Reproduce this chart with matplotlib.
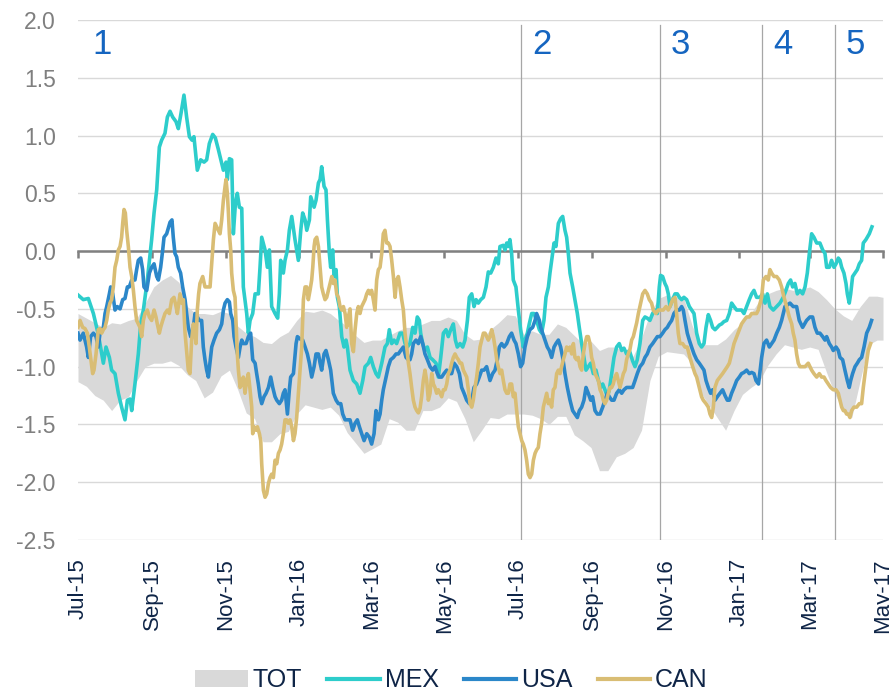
import numpy as np
import pandas as pd
import matplotlib
matplotlib.use("Agg")
import matplotlib.pyplot as plt
import matplotlib.dates as mdates
from matplotlib.patches import Patch
from matplotlib.lines import Line2D

plt.rcParams["font.family"] = ["Liberation Sans", "DejaVu Sans"]
plt.rcParams["axes.unicode_minus"] = False

START = pd.Timestamp("2015-07-01")

# (days since 1 Jul 2015, value)
mex_pts = [
    (0, -0.38), (4.4, -0.42), (8.6, -0.41), (12.8, -0.54), (16.9, -0.72), (19.7, -0.89), (21.1, -0.97),
    (23.3, -0.83), (26.1, -0.92), (28.0, -1.03), (30.8, -1.06), (33.6, -1.23), (36.3, -1.35), (39.1, -1.46),
    (41.1, -1.29), (43.3, -1.28), (44.7, -1.38), (47.4, -1.15), (50.2, -0.89), (52.2, -0.63), (54.4, -0.51),
    (57.7, -0.25), (61.3, 0.10), (63.3, 0.33), (65.5, 0.53), (67.7, 0.90), (69.6, 0.96), (72.4, 1.02),
    (74.4, 1.16), (76.6, 1.21), (78.8, 1.16), (81.6, 1.12), (83.5, 1.06), (85.7, 1.19), (88.2, 1.35),
    (90.4, 1.16), (92.7, 0.99), (94.9, 0.96), (96.5, 0.99), (99.3, 0.70), (102.1, 0.79), (104.9, 0.77),
    (107.1, 0.79), (109.3, 0.93), (112.1, 1.01), (114.3, 0.98), (116.8, 0.88), (119.6, 0.76), (121.0, 0.70),
    (123.2, 0.77), (124.3, 0.62), (126.0, 0.80), (127.9, 0.79), (129.3, 0.15), (131.0, 0.41), (132.6, 0.50),
    (134.3, 0.38), (136.3, 0.37), (137.6, -0.31), (140.4, -0.54), (141.8, -0.71), (143.2, -0.60),
    (145.4, -0.54), (147.4, -0.37), (150.1, -0.37), (151.5, -0.14), (152.9, 0.12), (155.7, 0.01),
    (157.6, -0.14), (159.3, 0.01), (161.2, -0.48), (164.0, -0.54), (166.2, -0.58), (167.6, -0.37),
    (168.7, -0.08), (170.9, -0.19), (172.3, -0.08), (174.3, 0.01), (175.9, 0.18), (177.9, 0.30),
    (180.6, 0.10), (183.4, -0.08), (185.4, 0.18), (187.0, 0.33), (189.0, 0.27), (190.4, 0.18), (192.6, 0.27),
    (193.7, 0.47), (196.5, 0.38), (198.1, 0.44), (200.1, 0.59), (201.5, 0.62), (202.8, 0.73), (204.8, 0.56),
    (206.4, 0.53), (207.6, 0.27), (209.2, -0.02), (210.3, -0.14), (212.0, 0.01), (213.1, -0.22),
    (214.8, -0.16), (215.9, -0.40), (217.5, -0.48), (219.5, -0.74), (221.4, -0.83), (223.1, -0.77),
    (224.2, -0.83), (226.4, -1.03), (229.2, -1.12), (232.0, -1.15), (234.7, -1.23), (237.0, -1.12),
    (238.9, -1.00), (241.7, -0.97), (243.6, -0.92), (245.8, -1.00), (248.0, -1.06), (250.0, -1.09),
    (252.8, -0.97), (255.5, -0.83), (257.5, -0.80), (259.1, -0.68), (261.1, -0.80), (263.0, -0.77),
    (265.2, -0.80), (268.0, -0.71), (270.2, -0.71), (272.2, -0.80), (274.1, -0.83), (276.3, -0.80),
    (278.6, -0.66), (280.5, -0.71), (282.4, -0.57), (284.1, -0.60), (285.2, -0.71), (286.9, -0.80),
    (288.8, -0.86), (290.8, -0.83), (293.0, -0.92), (295.2, -0.94), (298.0, -0.97), (299.9, -1.09),
    (301.9, -0.92), (304.1, -0.71), (306.3, -0.68), (308.2, -0.74), (310.2, -0.68), (312.4, -0.63),
    (314.1, -0.77), (315.7, -0.83), (318.0, -0.80), (320.2, -0.83), (322.1, -0.77), (324.1, -0.60),
    (325.7, -0.40), (327.7, -0.37), (329.6, -0.48), (331.3, -0.42), (333.2, -0.45), (335.2, -0.42),
    (337.4, -0.40), (339.6, -0.31), (341.5, -0.18), (343.5, -0.19), (345.7, -0.14), (347.9, -0.06),
    (349.8, -0.11), (351.2, 0.04), (354.0, 0.05), (355.4, 0.01), (356.8, 0.07), (358.2, 0.04), (359.5, 0.10),
    (360.9, -0.02), (362.3, -0.25), (364.5, -0.31), (366.5, -0.51), (368.4, -0.68), (370.6, -0.83),
    (372.0, -0.77), (374.0, -0.71), (375.6, -0.63), (377.6, -0.54), (379.5, -0.54), (381.7, -0.60),
    (384.0, -0.68), (385.9, -0.71), (387.8, -0.60), (389.5, -0.40), (391.5, -0.31), (392.8, -0.19),
    (394.2, -0.08), (396.2, 0.07), (397.8, 0.04), (399.8, 0.24), (401.7, 0.28), (403.4, 0.30), (405.3, 0.18),
    (406.7, 0.12), (408.1, -0.02), (409.5, -0.19), (411.7, -0.31), (413.6, -0.42), (415.6, -0.54),
    (417.2, -0.66), (419.2, -0.80), (421.1, -0.92), (422.8, -1.03), (424.7, -1.00), (426.7, -0.97),
    (428.9, -1.06), (431.1, -1.03), (433.1, -1.12), (435.0, -1.18), (436.7, -1.15), (438.6, -1.20),
    (440.6, -1.26), (442.2, -1.20), (444.2, -1.06), (446.1, -0.92), (448.3, -0.83), (450.5, -0.80),
    (452.5, -0.86), (454.4, -0.84), (456.6, -0.89), (458.9, -0.86), (461.6, -0.95), (463.6, -1.00),
    (465.5, -0.94), (467.7, -0.80), (470.0, -0.60), (471.9, -0.57), (473.8, -0.58), (476.0, -0.60),
    (478.3, -0.54), (480.2, -0.51), (482.2, -0.54), (483.8, -0.31), (484.9, -0.21), (486.6, -0.22),
    (488.5, -0.28), (489.9, -0.31), (491.3, -0.37), (492.7, -0.48), (494.9, -0.42), (496.9, -0.37),
    (498.8, -0.37), (500.5, -0.40), (502.4, -0.42), (504.3, -0.40), (506.6, -0.42), (508.8, -0.48),
    (510.7, -0.51), (512.7, -0.54), (514.9, -0.71), (517.1, -0.80), (519.0, -0.83), (521.0, -0.80),
    (522.7, -0.66), (524.6, -0.55), (526.5, -0.60), (528.2, -0.66), (530.2, -0.68), (532.1, -0.66),
    (533.8, -0.64), (535.7, -0.63), (537.6, -0.61), (539.9, -0.60), (542.1, -0.54), (544.0, -0.45),
    (546.0, -0.48), (548.2, -0.51), (550.4, -0.51), (552.3, -0.51), (554.3, -0.54), (556.5, -0.48),
    (558.7, -0.42), (560.7, -0.37), (562.6, -0.34), (564.8, -0.40), (567.6, -0.40), (569.8, -0.37),
    (571.8, -0.45), (573.7, -0.37), (575.9, -0.48), (578.7, -0.51), (581.5, -0.48), (584.2, -0.45),
    (587.0, -0.40), (589.2, -0.34), (591.2, -0.28), (593.1, -0.25), (594.8, -0.31), (596.7, -0.28),
    (598.7, -0.37), (600.9, -0.34), (603.1, -0.37), (605.1, -0.31), (607.0, -0.19), (608.7, -0.02),
    (610.6, 0.15), (612.5, 0.12), (614.8, 0.07), (617.5, 0.07), (619.8, 0.01), (621.7, -0.02),
    (623.1, -0.14), (625.3, -0.14), (627.2, -0.08), (629.2, -0.14), (630.9, -0.11), (632.8, -0.06),
    (634.2, -0.08), (635.6, -0.14), (637.5, -0.19), (639.2, -0.28), (640.3, -0.37), (641.9, -0.45),
    (643.1, -0.37), (644.7, -0.22), (646.7, -0.19), (648.6, -0.16), (650.3, -0.11), (652.2, -0.08),
    (653.6, 0.07), (655.8, 0.10), (656.9, 0.12), (658.6, 0.15), (659.7, 0.18), (660.8, 0.21),
]

usa_pts = [
    (0, -0.71), (1.7, -0.77), (4.4, -0.71), (7.2, -0.83), (8.6, -0.92), (10.5, -0.74), (12.8, -0.71),
    (15.0, -0.74), (16.9, -0.83), (18.3, -0.71), (21.1, -0.66), (22.5, -0.54), (23.9, -0.48), (26.1, -0.37),
    (27.2, -0.31), (28.9, -0.37), (30.8, -0.51), (32.7, -0.48), (35.0, -0.50), (37.2, -0.42), (39.1, -0.41),
    (41.1, -0.31), (42.7, -0.31), (44.7, -0.25), (47.4, -0.25), (48.8, -0.16), (50.2, -0.08), (52.2, -0.06),
    (53.8, -0.16), (54.9, -0.31), (57.2, -0.34), (59.4, -0.19), (61.3, -0.14), (63.3, -0.11), (65.5, -0.22),
    (66.9, -0.25), (68.8, -0.14), (70.5, 0.01), (71.6, 0.12), (73.8, 0.15), (75.5, 0.21), (76.6, 0.25),
    (78.2, 0.27), (79.3, 0.12), (80.7, -0.02), (82.1, -0.05), (83.5, -0.14), (85.4, -0.19), (87.1, -0.31),
    (89.1, -0.42), (90.4, -0.54), (91.8, -0.66), (93.8, -0.74), (95.4, -0.71), (97.4, -0.54), (99.3, -0.57),
    (101.0, -0.60), (102.9, -0.60), (104.3, -0.83), (105.7, -0.94), (107.1, -1.03), (108.5, -1.09),
    (111.3, -0.83), (113.2, -0.77), (115.4, -0.71), (117.7, -0.68), (119.6, -0.63), (121.0, -0.51),
    (122.4, -0.45), (124.3, -0.42), (126.0, -0.44), (127.1, -0.54), (128.8, -0.60), (129.9, -0.74),
    (131.5, -0.83), (133.5, -0.92), (134.9, -0.83), (136.3, -0.77), (137.6, -0.80), (139.9, -0.80),
    (141.8, -0.74), (143.7, -0.71), (145.4, -0.94), (147.4, -0.97), (148.7, -1.06), (150.1, -1.15),
    (151.5, -1.26), (152.9, -1.32), (154.8, -1.26), (156.5, -1.23), (158.5, -1.18), (160.4, -1.09),
    (162.1, -1.18), (164.0, -1.26), (165.4, -1.29), (167.6, -1.32), (169.5, -1.29), (170.9, -1.23),
    (172.3, -1.20), (174.3, -1.41), (175.9, -1.20), (177.0, -1.09), (179.3, -1.06), (181.5, -0.80),
    (182.6, -0.74), (184.8, -0.76), (187.0, -0.77), (189.0, -0.83), (190.9, -0.89), (192.6, -0.97),
    (194.5, -1.09), (196.5, -1.00), (198.1, -0.89), (200.1, -0.89), (201.5, -0.97), (202.8, -1.03),
    (204.8, -0.89), (206.4, -0.86), (208.4, -0.94), (210.3, -1.03), (212.5, -1.23), (214.8, -1.29),
    (216.7, -1.32), (218.7, -1.32), (220.3, -1.41), (222.3, -1.46), (224.2, -1.46), (226.4, -1.46),
    (228.6, -1.55), (230.6, -1.49), (232.5, -1.46), (234.2, -1.52), (236.1, -1.58), (238.1, -1.64),
    (240.3, -1.58), (242.5, -1.61), (244.4, -1.67), (246.4, -1.58), (248.0, -1.38), (250.0, -1.46),
    (251.4, -1.41), (252.8, -1.29), (254.1, -1.20), (256.4, -1.09), (258.3, -1.00), (260.2, -0.94),
    (262.5, -0.92), (264.7, -0.89), (266.6, -0.89), (268.6, -0.86), (270.8, -0.83), (273.0, -0.92),
    (275.0, -0.94), (276.3, -0.94), (277.7, -0.89), (279.1, -0.80), (281.3, -0.77), (283.3, -0.80),
    (285.2, -0.74), (286.9, -0.80), (288.8, -0.89), (290.8, -0.94), (293.0, -1.00), (295.2, -1.03),
    (297.1, -1.00), (299.1, -1.06), (300.8, -1.09), (302.7, -1.09), (304.6, -1.06), (306.9, -1.03),
    (309.1, -1.06), (311.0, -1.06), (313.0, -0.97), (315.2, -1.00), (317.4, -1.06), (319.3, -1.18),
    (321.3, -1.23), (323.5, -1.29), (325.7, -1.32), (327.7, -1.29), (329.6, -1.18), (331.8, -1.15),
    (334.0, -1.09), (336.0, -1.03), (337.9, -1.03), (340.1, -1.00), (342.9, -1.12), (345.1, -1.06),
    (347.1, -1.03), (349.0, -0.94), (350.7, -0.83), (352.6, -0.80), (354.6, -0.83), (356.8, -0.80),
    (359.0, -0.74), (360.9, -0.71), (362.9, -0.77), (364.5, -0.80), (366.5, -0.89), (368.4, -1.00),
    (370.1, -0.97), (372.0, -0.83), (374.0, -0.74), (376.2, -0.68), (378.4, -0.66), (380.4, -0.60),
    (381.7, -0.54), (384.0, -0.60), (385.1, -0.66), (386.7, -0.71), (388.7, -0.77), (390.6, -0.83),
    (392.3, -0.86), (394.2, -0.92), (396.2, -0.83), (397.8, -0.80), (399.8, -0.77), (401.7, -0.83),
    (403.4, -0.92), (405.3, -1.06), (407.3, -1.18), (409.5, -1.29), (411.7, -1.38), (413.6, -1.41),
    (415.6, -1.44), (417.3, -1.38), (419.2, -1.35), (421.1, -1.29), (422.8, -1.18), (424.7, -1.23),
    (426.7, -1.29), (428.3, -1.26), (430.3, -1.38), (432.2, -1.41), (434.5, -1.41), (436.7, -1.35),
    (438.6, -1.29), (440.6, -1.23), (442.2, -1.26), (444.2, -1.29), (446.1, -1.29), (448.3, -1.23),
    (450.5, -1.20), (452.5, -1.23), (454.4, -1.20), (456.6, -1.18), (458.9, -1.18), (461.6, -1.18),
    (463.6, -1.12), (465.5, -1.06), (467.7, -1.00), (470.0, -0.97), (471.9, -0.92), (473.8, -0.89),
    (476.0, -0.83), (478.3, -0.80), (480.2, -0.77), (482.2, -0.74), (484.4, -0.74), (486.6, -0.71),
    (488.5, -0.68), (490.5, -0.66), (492.1, -0.63), (494.1, -0.60), (496.0, -0.54), (498.2, -0.51),
    (500.5, -0.51), (502.4, -0.48), (503.8, -0.51), (505.2, -0.60), (507.1, -0.71), (508.8, -0.77),
    (510.7, -0.83), (512.7, -0.89), (514.9, -0.94), (517.1, -0.97), (519.0, -1.00), (521.0, -1.03),
    (522.7, -1.12), (524.6, -1.18), (526.5, -1.23), (528.2, -1.20), (530.2, -1.29), (532.1, -1.26),
    (534.3, -1.23), (536.5, -1.20), (538.5, -1.25), (540.4, -1.29), (542.1, -1.29), (544.0, -1.23),
    (546.0, -1.18), (548.2, -1.12), (550.4, -1.09), (552.3, -1.06), (554.3, -1.05), (556.5, -1.03),
    (558.7, -1.06), (560.7, -1.05), (562.6, -1.06), (564.3, -1.12), (566.4, -1.15), (569.0, -0.92),
    (570.9, -0.80), (573.1, -0.77), (575.4, -0.83), (577.3, -0.80), (579.3, -0.77), (581.5, -0.71),
    (583.7, -0.66), (585.6, -0.60), (588.4, -0.48), (592.6, -0.45), (595.3, -0.48), (598.1, -0.48),
    (600.3, -0.60), (603.1, -0.66), (606.4, -0.60), (609.2, -0.57), (611.4, -0.57), (613.4, -0.66),
    (615.3, -0.71), (617.5, -0.71), (619.8, -0.74), (621.7, -0.77), (623.1, -0.74), (625.3, -0.80),
    (627.2, -0.83), (628.6, -0.86), (630.9, -0.83), (632.8, -0.86), (634.2, -0.92), (636.4, -0.94),
    (638.3, -1.03), (640.3, -1.12), (641.9, -1.18), (643.1, -1.12), (644.7, -1.06), (646.7, -1.00),
    (648.6, -0.97), (650.3, -0.94), (652.2, -0.92), (654.2, -0.83), (656.4, -0.71), (658.6, -0.66),
    (660.5, -0.60),
]

can_pts = [
    (0, -0.66), (1.7, -0.60), (3.9, -0.66), (5.8, -0.67), (7.8, -0.71), (9.4, -0.83), (10.5, -0.92),
    (12.2, -1.06), (13.3, -1.03), (15.0, -0.89), (16.9, -0.68), (18.3, -0.67), (19.7, -0.71), (21.1, -0.68),
    (22.5, -0.66), (23.9, -0.60), (25.2, -0.51), (26.6, -0.45), (28.0, -0.42), (29.4, -0.31), (30.8, -0.14),
    (32.2, -0.08), (33.6, 0.01), (35.0, 0.04), (36.3, 0.12), (37.2, 0.24), (38.3, 0.36), (39.4, 0.33),
    (40.5, 0.18), (41.9, 0.04), (43.3, -0.14), (44.7, -0.22), (46.1, -0.34), (47.4, -0.48), (48.8, -0.60),
    (50.2, -0.63), (51.6, -0.66), (53.0, -0.74), (54.4, -0.60), (55.8, -0.54), (57.7, -0.51), (59.4, -0.57),
    (61.3, -0.60), (63.3, -0.51), (64.9, -0.57), (66.0, -0.63), (67.7, -0.71), (68.8, -0.66), (70.5, -0.60),
    (72.4, -0.54), (74.4, -0.51), (76.0, -0.54), (78.0, -0.42), (79.9, -0.40), (81.6, -0.48), (82.7, -0.54),
    (84.9, -0.37), (86.3, -0.45), (87.7, -0.42), (89.1, -0.71), (90.4, -0.86), (91.8, -1.03), (93.2, -1.06),
    (94.6, -0.77), (96.0, -0.63), (97.4, -0.71), (98.2, -0.80), (99.3, -0.51), (100.4, -0.37),
    (101.5, -0.28), (103.8, -0.22), (105.7, -0.31), (107.1, -0.31), (109.9, -0.31), (112.7, 0.10),
    (114.1, 0.24), (115.4, 0.21), (116.8, 0.18), (118.2, 0.15), (119.6, 0.27), (121.0, 0.44), (122.4, 0.56),
    (123.2, 0.62), (124.3, 0.50), (125.2, 0.33), (126.0, 0.15), (127.1, 0.01), (127.9, -0.19),
    (129.3, -0.34), (130.7, -0.40), (131.5, -0.60), (132.6, -0.89), (133.5, -1.03), (134.9, -1.18),
    (136.3, -1.15), (137.6, -1.09), (139.0, -1.23), (140.4, -1.12), (141.8, -1.06), (143.2, -1.20),
    (144.6, -1.35), (145.4, -1.58), (146.5, -1.52), (148.2, -1.55), (149.3, -1.52), (151.0, -1.58),
    (152.1, -1.64), (152.9, -1.84), (154.3, -2.07), (155.7, -2.13), (157.1, -2.10), (158.5, -2.01),
    (159.8, -1.96), (161.2, -1.93), (162.6, -1.96), (164.0, -1.81), (165.4, -1.84), (166.8, -1.75),
    (168.2, -1.72), (169.5, -1.67), (170.9, -1.58), (172.3, -1.46), (173.7, -1.46), (175.1, -1.49),
    (176.5, -1.46), (177.9, -1.52), (179.3, -1.64), (180.6, -1.58), (182.0, -1.44), (183.4, -1.23),
    (184.8, -1.03), (186.2, -0.83), (187.6, -0.42), (189.0, -0.31), (190.4, -0.31), (191.7, -0.42),
    (193.1, -0.34), (194.5, -0.25), (195.4, -0.14), (196.5, 0.04), (197.3, 0.10), (198.7, 0.12),
    (200.1, 0.04), (201.5, -0.14), (202.8, -0.31), (204.2, -0.37), (205.6, -0.42), (207.0, -0.40),
    (208.4, -0.34), (209.8, -0.28), (211.2, -0.22), (212.5, -0.28), (213.9, -0.25), (215.3, -0.37),
    (216.7, -0.40), (218.1, -0.48), (219.5, -0.51), (220.9, -0.48), (222.3, -0.54), (223.6, -0.66),
    (225.0, -0.57), (226.4, -0.50), (227.8, -0.80), (229.2, -0.87), (230.6, -0.68), (232.0, -0.54),
    (233.3, -0.48), (234.7, -0.54), (236.1, -0.48), (237.5, -0.45), (238.9, -0.42), (240.3, -0.37),
    (241.7, -0.34), (243.0, -0.37), (244.4, -0.34), (245.8, -0.42), (247.2, -0.51), (248.6, -0.25),
    (250.0, -0.16), (251.4, -0.14), (252.8, -0.02), (254.1, 0.15), (255.5, 0.18), (256.9, 0.07),
    (258.3, 0.07), (259.7, 0.04), (261.1, -0.08), (262.5, -0.22), (263.9, -0.40), (265.2, -0.25),
    (266.6, -0.22), (268.0, -0.31), (269.4, -0.42), (270.8, -0.51), (272.2, -0.71), (273.6, -0.83),
    (275.0, -0.97), (276.3, -1.06), (277.7, -1.18), (279.1, -1.29), (280.5, -1.35), (281.9, -1.38),
    (283.3, -1.40), (284.7, -1.36), (286.0, -1.26), (287.4, -1.12), (288.8, -1.03), (290.2, -1.12),
    (291.6, -1.29), (293.0, -1.23), (294.4, -1.06), (295.8, -1.15), (297.1, -1.18), (298.5, -1.23),
    (299.9, -1.20), (301.3, -1.23), (302.7, -1.26), (304.1, -1.20), (305.5, -1.20), (306.9, -1.15),
    (308.2, -1.06), (309.6, -1.03), (311.0, -0.97), (312.4, -0.92), (313.8, -0.89), (315.2, -0.92),
    (316.6, -0.94), (317.9, -0.97), (319.3, -0.97), (320.7, -1.03), (322.1, -1.06), (323.5, -1.09),
    (324.9, -1.20), (326.3, -1.32), (327.7, -1.35), (329.0, -1.29), (330.4, -1.18), (331.8, -1.09),
    (333.2, -0.97), (334.6, -0.83), (336.0, -0.77), (337.4, -0.71), (338.8, -0.71), (340.1, -0.74),
    (341.5, -0.77), (342.9, -0.74), (344.3, -0.68), (345.7, -0.74), (347.1, -0.83), (348.5, -0.94),
    (349.8, -1.00), (351.2, -1.06), (352.6, -1.03), (354.0, -1.12), (355.4, -1.20), (356.8, -1.23),
    (358.2, -1.23), (359.5, -1.15), (360.9, -1.15), (362.3, -1.26), (363.7, -1.23), (365.1, -1.38),
    (366.5, -1.52), (367.9, -1.58), (369.3, -1.64), (370.6, -1.67), (372.0, -1.72), (373.4, -1.81),
    (374.8, -1.93), (376.2, -1.96), (377.6, -1.93), (379.0, -1.81), (380.4, -1.75), (381.7, -1.72),
    (383.1, -1.70), (384.5, -1.58), (385.9, -1.49), (387.3, -1.35), (388.7, -1.29), (390.1, -1.23),
    (391.5, -1.32), (392.8, -1.29), (394.2, -1.35), (395.6, -1.20), (397.0, -1.18), (398.4, -1.06),
    (399.8, -1.03), (401.2, -1.06), (402.5, -1.00), (403.9, -0.94), (405.3, -0.89), (406.7, -0.83),
    (408.1, -0.86), (409.5, -0.83), (410.9, -0.89), (412.3, -0.80), (413.6, -0.92), (415.0, -0.94),
    (416.4, -0.92), (417.8, -1.00), (419.2, -1.03), (420.6, -0.89), (422.0, -0.80), (423.4, -0.74),
    (424.7, -0.74), (426.1, -0.80), (427.5, -0.92), (428.9, -0.97), (430.3, -1.06), (431.7, -1.09),
    (433.1, -1.12), (434.5, -1.20), (435.8, -1.23), (437.2, -1.29), (438.6, -1.32), (440.0, -1.29),
    (441.4, -1.23), (442.8, -1.18), (444.2, -1.18), (445.5, -1.15), (446.9, -1.09), (448.3, -1.06),
    (449.7, -1.12), (451.1, -1.18), (452.5, -1.12), (453.9, -1.06), (455.3, -1.03), (456.6, -0.94),
    (458.0, -0.89), (459.4, -0.85), (460.8, -0.77), (462.2, -0.74), (463.6, -0.68), (465.0, -0.62),
    (466.4, -0.54), (467.7, -0.48), (470.0, -0.37), (471.9, -0.34), (473.8, -0.37), (475.5, -0.42),
    (477.4, -0.45), (478.8, -0.51), (481.0, -0.54), (483.0, -0.51), (484.9, -0.51), (487.1, -0.51),
    (489.4, -0.48), (491.3, -0.51), (492.7, -0.48), (494.9, -0.42), (496.9, -0.40), (498.2, -0.54),
    (499.6, -0.71), (501.0, -0.80), (503.2, -0.80), (505.2, -0.83), (507.1, -0.83), (509.3, -0.92),
    (511.6, -1.00), (513.5, -1.06), (514.9, -1.09), (517.1, -1.18), (519.0, -1.26), (520.4, -1.29),
    (522.7, -1.32), (524.6, -1.35), (526.0, -1.41), (527.4, -1.44), (528.8, -1.35), (530.1, -1.18),
    (532.1, -1.12), (534.3, -1.09), (536.5, -1.06), (538.5, -1.03), (540.4, -1.00), (542.1, -0.97),
    (544.0, -0.89), (546.0, -0.80), (548.2, -0.74), (550.4, -0.68), (552.3, -0.63), (554.3, -0.60),
    (556.5, -0.57), (558.7, -0.57), (560.7, -0.54), (562.6, -0.54), (564.8, -0.54), (566.2, -0.51),
    (569.0, -0.40), (570.4, -0.25), (572.6, -0.22), (574.5, -0.25), (575.9, -0.16), (577.3, -0.19),
    (579.3, -0.22), (581.5, -0.22), (583.7, -0.25), (585.6, -0.31), (587.6, -0.40), (589.8, -0.48),
    (592.0, -0.57), (594.0, -0.63), (595.3, -0.71), (596.7, -0.77), (598.1, -0.89), (599.5, -0.97),
    (600.9, -1.00), (603.1, -1.00), (605.1, -1.00), (607.8, -0.97), (609.2, -1.00), (610.6, -1.03),
    (612.5, -1.06), (614.8, -1.09), (617.0, -1.06), (618.9, -1.09), (620.9, -1.09), (622.5, -1.12),
    (624.5, -1.15), (626.4, -1.18), (628.6, -1.20), (630.9, -1.20), (632.8, -1.23), (634.2, -1.29),
    (635.6, -1.35), (637.0, -1.38), (638.3, -1.38), (639.7, -1.41), (641.1, -1.41), (642.5, -1.44),
    (643.9, -1.38), (645.8, -1.35), (648.1, -1.35), (650.3, -1.32), (652.2, -1.32), (653.6, -1.18),
    (655.8, -1.00), (657.7, -0.86), (659.7, -0.80),
]

# TOT range band: (day, low, high)
tot_pts = [
    (0, -1.13, -0.54), (7, -1.17, -0.58), (14, -1.25, -0.62), (21, -1.29, -0.66), (28, -1.38, -0.62),
    (35, -1.29, -0.63), (42, -1.26, -0.60), (49, -1.12, -0.58), (56, -1.00, -0.45), (63, -0.97, -0.31),
    (70, -0.97, -0.25), (77, -0.95, -0.21), (84, -0.99, -0.27), (91, -1.07, -0.48), (98, -1.12, -0.54),
    (105, -1.27, -0.54), (112, -1.22, -0.55), (119, -1.08, -0.52), (126, -1.03, -0.54), (133, -1.20, -0.65),
    (140, -1.40, -0.71), (147, -1.45, -0.74), (154, -1.65, -0.79), (161, -1.65, -0.80), (168, -1.58, -0.74),
    (175, -1.56, -0.70), (182, -1.41, -0.60), (189, -1.33, -0.52), (196, -1.35, -0.53), (203, -1.37, -0.51),
    (210, -1.35, -0.54), (217, -1.42, -0.60), (224, -1.57, -0.65), (231, -1.66, -0.73), (238, -1.75, -0.79),
    (245, -1.71, -0.77), (252, -1.67, -0.77), (259, -1.45, -0.73), (266, -1.48, -0.69), (273, -1.55, -0.66),
    (280, -1.55, -0.66), (287, -1.38, -0.63), (294, -1.38, -0.60), (301, -1.35, -0.60), (308, -1.27, -0.57),
    (315, -1.30, -0.60), (322, -1.45, -0.72), (329, -1.65, -0.77), (336, -1.55, -0.76), (343, -1.44, -0.68),
    (350, -1.45, -0.62), (357, -1.41, -0.55), (364, -1.41, -0.56), (371, -1.41, -0.72), (378, -1.42, -0.69),
    (385, -1.45, -0.72), (392, -1.50, -0.72), (399, -1.43, -0.63), (406, -1.43, -0.66), (413, -1.59, -0.73),
    (420, -1.64, -0.80), (427, -1.70, -0.78), (434, -1.90, -0.86), (441, -1.90, -0.83), (448, -1.78, -0.83),
    (455, -1.75, -0.88), (462, -1.70, -0.91), (469, -1.55, -0.75), (476, -1.12, -0.54), (483, -0.91, -0.41),
    (490, -0.87, -0.38), (497, -0.88, -0.40), (504, -0.89, -0.40), (511, -0.97, -0.64), (518, -1.22, -0.81),
    (525, -1.33, -0.81), (532, -1.44, -0.81), (539, -1.55, -0.76), (546, -1.38, -0.68), (553, -1.24, -0.62),
    (560, -1.18, -0.54), (567, -1.13, -0.43), (574, -0.99, -0.37), (581, -0.89, -0.34), (588, -0.81, -0.32),
    (595, -0.83, -0.34), (602, -0.85, -0.33), (609, -0.83, -0.31), (616, -0.85, -0.35), (623, -1.05, -0.42),
    (630, -1.24, -0.50), (637, -1.38, -0.56), (644, -1.44, -0.60), (651, -1.12, -0.48), (658, -0.81, -0.39),
    (665, -0.77, -0.39), (670, -0.77, -0.40),
]

event_dates = ["2016-07-04", "2016-10-27", "2017-01-20", "2017-03-22"]
period_labels = ["1", "2", "3", "4", "5"]
period_starts = ["2015-07-04"] + event_dates

C_TOT = "#d9d9d9"
C_MEX = "#2dcdcb"
C_USA = "#2b87c9"
C_CAN = "#d9bd74"
NAVY = "#0f2547"


def to_dates(days):
    return START + pd.to_timedelta(np.asarray(days, dtype=float), unit="D")


def main():
    fig = plt.figure(figsize=(8.89, 6.96), dpi=100)
    ax = fig.add_axes([78 / 889, 1 - 540 / 696, 805 / 889, 520 / 696])

    tot = np.array(tot_pts)
    ax.fill_between(to_dates(tot[:, 0]), tot[:, 1], tot[:, 2], color=C_TOT, lw=0, zorder=1)

    for d in event_dates:
        ax.axvline(pd.Timestamp(d), ymax=0.99, color="#a6a6a6", lw=0.9, zorder=1.5)

    for pts, col in [(mex_pts, C_MEX), (usa_pts, C_USA), (can_pts, C_CAN)]:
        arr = np.array(pts)
        ax.plot(to_dates(arr[:, 0]), arr[:, 1], color=col, lw=2.6, zorder=3,
                solid_joinstyle="round")

    for lab, d in zip(period_labels, period_starts):
        ax.annotate(lab, (pd.Timestamp(d), 2.0), xytext=(8, -6), textcoords="offset points",
                    ha="left", va="top", fontsize=25, color="#1565c0")

    ax.set_xlim(START, pd.Timestamp("2017-05-01"))
    ax.set_ylim(-2.5, 2.0)
    ax.set_yticks(np.arange(-2.5, 2.01, 0.5))
    ax.yaxis.set_major_formatter(plt.FormatStrFormatter("%.1f"))
    ax.tick_params(axis="y", length=0, pad=16, labelsize=16.5, labelcolor="#7f7f7f")
    ax.yaxis.grid(True, color="#d9d9d9", lw=1.0)
    ax.set_axisbelow(True)

    for s in ["left", "right", "top"]:
        ax.spines[s].set_visible(False)
    ax.spines["bottom"].set_position(("data", 0))
    ax.spines["bottom"].set_color("#808080")
    ax.spines["bottom"].set_linewidth(1.8)
    ax.spines["bottom"].set_zorder(2.5)

    months = mdates.MonthLocator(bymonth=[1, 3, 5, 7, 9, 11])
    ax.xaxis.set_major_locator(months)
    ax.tick_params(axis="x", direction="out", length=5, width=1.8, color="#808080",
                   labelbottom=False)

    sec = ax.secondary_xaxis("bottom")
    sec.xaxis.set_major_locator(mdates.MonthLocator(bymonth=[1, 3, 5, 7, 9, 11]))
    sec.xaxis.set_major_formatter(mdates.DateFormatter("%b-%y"))
    sec.tick_params(length=0, pad=13, labelsize=16, labelcolor=NAVY, labelrotation=90)
    sec.spines["bottom"].set_visible(False)

    handles = [
        Patch(facecolor=C_TOT, edgecolor="none"),
        Line2D([], [], color=C_MEX, lw=3),
        Line2D([], [], color=C_USA, lw=3),
        Line2D([], [], color=C_CAN, lw=3),
    ]
    fig.legend(handles, ["TOT", "MEX", "USA", "CAN"], loc="lower center",
               bbox_to_anchor=(0.508, -0.027), ncol=4, frameon=False, fontsize=18,
               handlelength=2.1, handletextpad=0.2, columnspacing=1.0, labelcolor=NAVY)

    fig.savefig("out.png", dpi=100)


if __name__ == "__main__":
    main()
